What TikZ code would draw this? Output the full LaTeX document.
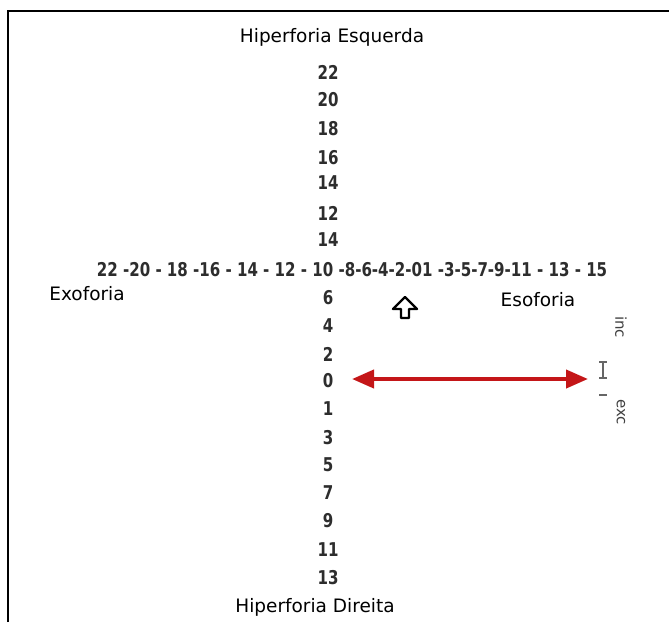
\documentclass[tikz,border=0pt]{standalone}
\usepackage{fontspec}
\setmainfont{DejaVu Sans}
\newfontfamily\numfont[FakeStretch=0.88]{DejaVu Sans Condensed}
\usepackage{tikz}
\usetikzlibrary{arrows.meta}
\definecolor{scalered}{RGB}{196,22,24}
\definecolor{numgray}{RGB}{45,45,45}

\begin{document}
\begin{tikzpicture}[x=1pt, y=-1pt,
    num/.style={text=numgray, font=\numfont\bfseries\fontsize{19}{19}\selectfont, inner sep=0pt},
    lbl/.style={text=black, font=\fontsize{18.5}{18.5}\selectfont, inner sep=0pt},
    side/.style={text=black!75, font=\fontsize{15}{15}\selectfont, inner sep=0pt, rotate=-90}]
  \useasboundingbox (0,0) rectangle (669,622);
  % frame
  \draw[line width=1.5pt] (8,622) -- (8,11) -- (669,11);

  % labels
  \node[lbl] (hipE) at (332,37) {Hiperforia Esquerda};
  \node[lbl] (hipD) at (315,607) {Hiperforia Direita};
  \node[lbl] (exo) at (87,294) {Exoforia};
  \node[lbl] (eso) at (538,300) {Esoforia};

  % vertical scale
  \foreach \y/\v in {72/22, 100/20, 129/18, 158/16, 183/14, 213/12, 240/14,
                     298/6, 326/4, 354/2, 381/0, 409/1, 438/3, 465/5,
                     493/7, 521/9, 550/11, 578/13}
    \node[num] at (328,\y) {\v};

  % horizontal scale
  \node[num] (hscale) at (352,270) {22 -20 - 18 -16 - 14 - 12 - 10 -8-6-4-2-01 -3-5-7-9-11 - 13 - 15};

  % hollow arrow
  \draw[line width=2.4pt, line join=round]
    (405,297) -- (417,309) -- (409,309) -- (409,318) -- (401,318)
    -- (401,309) -- (393,309) -- cycle;

  % red double arrow
  \coordinate (arrL) at (352,379);
  \coordinate (arrR) at (588,379);
  \draw[scalered, line width=4pt, {Triangle[length=22pt, width=18pt]}-{Triangle[length=22pt, width=18pt]}]
    (arrL) -- (arrR);

  % inc / exc marks
  \node[side] (inc) at (621,327) {inc};
  \node[side] (exc) at (621,412) {exc};
  \draw[black!60, line width=1.2pt]
    (599,362) -- (607,362)
    (603,362) -- (603,378)
    (599,378) -- (607,378)
    (599,395) -- (607,395);
\end{tikzpicture}
\end{document}
